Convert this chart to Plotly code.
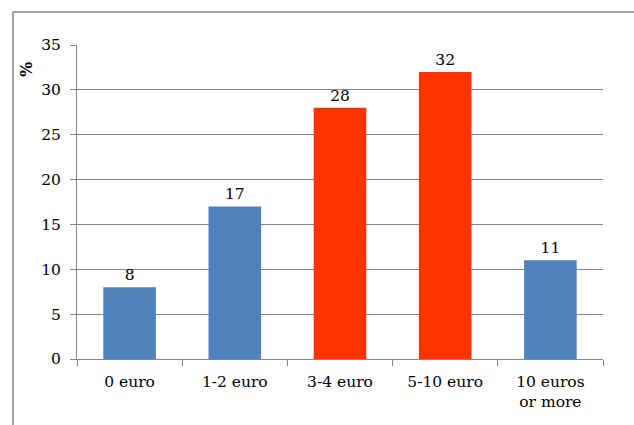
import plotly.graph_objects as go

categories = ["0 euro", "1-2 euro", "3-4 euro", "5-10 euro", "10 euros<br>or more"]
values = [8, 17, 28, 32, 11]
bar_colors = ["#4F81BD", "#4F81BD", "#FF3300", "#FF3300", "#4F81BD"]
y_ticks = [0, 5, 10, 15, 20, 25, 30, 35]

W, H = 634, 425
L, R, T, B = 77, 31, 45, 66
pw, ph = W - L - R, H - T - B

FAMILY = "DejaVu Serif"
font = dict(family=FAMILY, size=15.5, color="#000000")

fig = go.Figure(
    go.Bar(
        x=categories,
        y=values,
        marker=dict(color=bar_colors, line=dict(width=0)),
        text=[str(v) for v in values],
        textposition="outside",
        textfont=font,
        cliponaxis=False,
        width=0.5,
    )
)

fig.update_layout(
    width=W,
    height=H,
    margin=dict(l=L, r=R, t=T, b=B),
    paper_bgcolor="white",
    plot_bgcolor="white",
    font=font,
    showlegend=False,
    bargap=0.5,
)

fig.update_xaxes(
    type="category",
    tickson="boundaries",
    ticks="outside",
    ticklen=6,
    tickcolor="#868686",
    showline=True,
    linecolor="#868686",
    linewidth=1,
    showgrid=False,
    tickfont=font,
    range=[-0.5, 4.5],
    ticklabelstandoff=8,
)

fig.update_yaxes(
    range=[0, 35],
    tickvals=y_ticks,
    ticks="outside",
    ticklen=6,
    tickcolor="#868686",
    showline=True,
    linecolor="#868686",
    linewidth=1,
    showgrid=True,
    gridcolor="#868686",
    gridwidth=1,
    zeroline=False,
    tickfont=font,
    ticklabelstandoff=6,
)

# y-axis unit label
fig.add_annotation(
    text="<b>%</b>",
    xref="paper", yref="paper",
    x=(26 - L) / pw, y=(H - B - 70) / ph,
    xanchor="center", yanchor="middle",
    showarrow=False,
    textangle=-90,
    font=dict(family=FAMILY, size=16, color="#000000"),
)

# outer chart frame
fig.add_shape(
    type="rect",
    xref="paper", yref="paper",
    x0=(13 - L) / pw, x1=(W + 10 - L) / pw,
    y0=(H - B - (H + 10)) / ph, y1=(H - B - 12) / ph,
    line=dict(color="#868686", width=1.5),
    fillcolor="rgba(0,0,0,0)",
    layer="below",
)

fig.write_html("out.html")
